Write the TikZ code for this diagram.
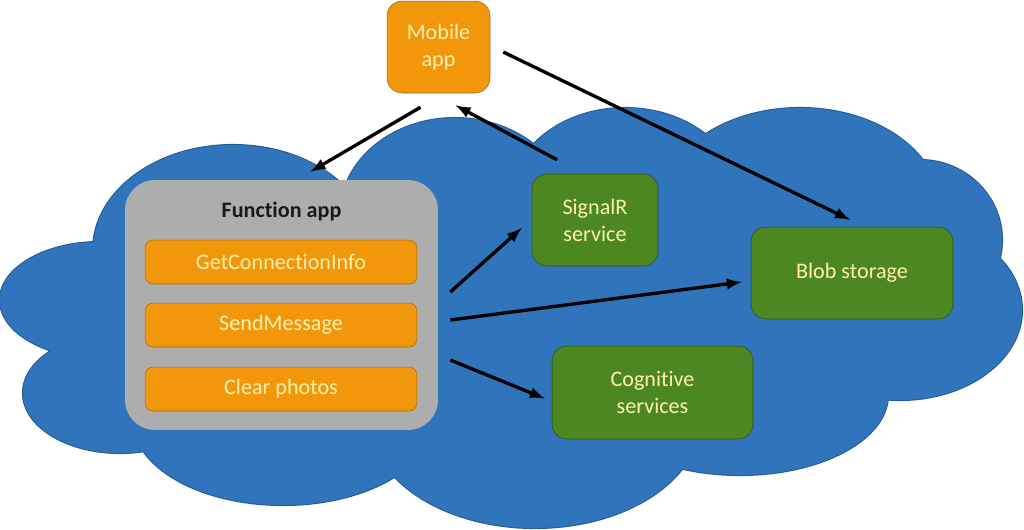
\documentclass[tikz,border=0pt]{standalone}
\usepackage{fontspec}
\setmainfont{Carlito}[Ligatures=NoCommon]
\usetikzlibrary{calc}
\definecolor{bleunuage}{RGB}{48,116,188}
\definecolor{bordnuage}{RGB}{38,92,150}
\definecolor{orangeboite}{RGB}{242,150,12}
\definecolor{vertboite}{RGB}{76,135,34}
\definecolor{grisboite}{RGB}{173,173,173}
\definecolor{texteclair}{RGB}{255,242,172}
\begin{document}
\begin{tikzpicture}[x=0.02cm,y=-0.02cm]
	\tikzstyle{fleche}=[->,>=latex,line width=1.9pt]
	\tikzstyle{boite}=[rectangle,inner sep=2pt,align=center,text=texteclair,font=\fontsize{12.6}{15.5}\selectfont]
	\tikzstyle{etape}=[boite,rounded corners=0.16cm,fill=orangeboite,draw=orangeboite!70!black,line width=0.3pt,minimum width=5.44cm,minimum height=0.88cm]
	\tikzstyle{service}=[boite,rounded corners=0.3cm,fill=vertboite,draw=vertboite!60!black,line width=0.3pt,minimum height=1.84cm]
	\tikzstyle{appli}=[boite,rounded corners=0.3cm,fill=orangeboite,draw=orangeboite!70!black,line width=0.3pt]
	\tikzstyle{conteneur}=[rectangle,rounded corners=0.6cm,fill=grisboite,minimum width=6.26cm,minimum height=5cm]
	\def\Nuage{(100,300) ellipse [x radius=100,y radius=58]
		(120,393) ellipse [x radius=97,y radius=60]
		(283,420) ellipse [x radius=150,y radius=85]
		(535,420) ellipse [x radius=165,y radius=108]
		(740,395) ellipse [x radius=148,y radius=80]
		(900,310) ellipse [x radius=122,y radius=90]
		(920,240) ellipse [x radius=82,y radius=80]
		(800,208) ellipse [x radius=140,y radius=100]
		(625,200) ellipse [x radius=115,y radius=92]
		(455,215) ellipse [x radius=115,y radius=97]
		(233,250) ellipse [x radius=140,y radius=105]}
	\useasboundingbox (0,0) rectangle (1024,529);
	\draw[bordnuage,line width=1.2pt] \Nuage;
	\fill[bleunuage] \Nuage;
	\fill[bleunuage] (100,300)--(120,393)--(283,420)--(535,420)--(740,395)--(900,310)--(920,240)--(800,208)--(625,200)--(455,215)--(233,250)--cycle;
	\node[appli,minimum width=2.06cm,minimum height=1.84cm] (mobile) at (438.5,47) {Mobile\\app};
	\node[conteneur] (fonction) at (281.5,305) {};
	\node[font=\bfseries\fontsize{12.6}{15.5}\selectfont,text=black!90] (titre) at (281.5,211) {Function app};
	\node[etape] (connexion) at (281,262) {GetConnectionInfo};
	\node[etape] (envoi) at (281,325) {SendMessage};
	\node[etape] (effacer) at (281,389) {Clear photos};
	\node[service,minimum width=2.52cm] (signalr) at (595,220) {SignalR\\service};
	\node[service,minimum width=4.04cm] (blob) at (852,273) {Blob storage};
	\node[service,minimum width=4.02cm,minimum height=1.86cm] (cognitif) at (652.5,392.5) {Cognitive\\services};
	\draw[fleche] ($(mobile.south)+(-18,14)$)--($(fonction.north)+(29,-8)$);
	\draw[fleche] ($(signalr.north)+(-38,-14)$)--($(mobile.south)+(17,12)$);
	\draw[fleche] ($(mobile.east)+(13,5)$)--($(blob.north)+(-2,-7)$);
	\draw[fleche] ($(fonction.east)+(12,-13)$)--($(signalr.west)+(-10,8)$);
	\draw[fleche] ($(fonction.east)+(12,15)$)--($(blob.west)+(-9,9)$);
	\draw[fleche] ($(fonction.east)+(12,55)$)--($(cognitif.west)+(-7,6)$);
\end{tikzpicture}
\end{document}
